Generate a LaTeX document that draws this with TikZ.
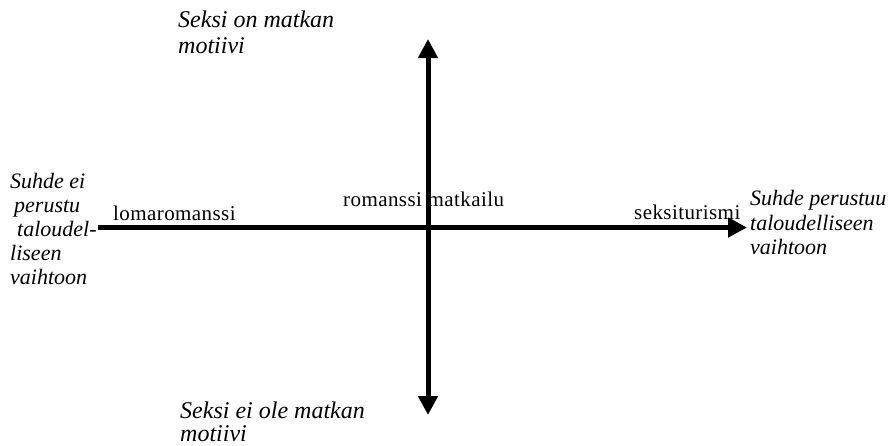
\documentclass[tikz,border=0pt]{standalone}
\usepackage{fontspec}
\setmainfont{Liberation Serif}
\newfontfamily\romanlbl[LetterSpace=2]{Liberation Serif}
\usetikzlibrary{arrows.meta}
\begin{document}
\begin{tikzpicture}[x=1pt,y=-1pt,
  lbl/.style={anchor=base west,inner sep=0pt,font=\romanlbl\fontsize{21}{24}\selectfont},
  ital/.style={anchor=base west,inner sep=0pt,font=\fontsize{24}{26}\selectfont\itshape},
  itals/.style={anchor=base west,inner sep=0pt,font=\fontsize{22}{24}\selectfont\itshape},
  axis/.style={line width=5pt,-{Triangle[length=19pt,width=19pt]}}]
\useasboundingbox (0,0) rectangle (894,445);
\coordinate (L) at (98,227.5);
\coordinate (R) at (747,227.5);
\coordinate (T) at (428,39);
\coordinate (B) at (428,415);
\coordinate (C) at (428,227.5);
\draw[axis] (L) -- (R);
\draw[axis] (C) -- (T);
\draw[axis] (C) -- (B);
\node[lbl] (loma) at (113,220) {lomaromanssi};
\node[lbl] (rom) at (343,206.5) {romanssi matkailu};
\node[lbl] (seks) at (634,219) {seksiturismi};
\node[ital] (t1) at (178,27) {Seksi on matkan};
\node[ital] (t2) at (178,53) {motiivi};
\node[itals] (l1) at (10,188) {Suhde ei};
\node[itals] (l2) at (14,212) {perustu};
\node[itals] (l3) at (17,236) {taloudel-};
\node[itals] (l4) at (10,260) {liseen};
\node[itals] (l5) at (10,284) {vaihtoon};
\node[itals] (r1) at (750,205) {Suhde perustuu};
\node[itals] (r2) at (750,230) {taloudelliseen};
\node[itals] (r3) at (750,254) {vaihtoon};
\node[ital] (b1) at (180,418) {Seksi ei ole matkan};
\node[ital] (b2) at (180,441) {motiivi};
\end{tikzpicture}
\end{document}
